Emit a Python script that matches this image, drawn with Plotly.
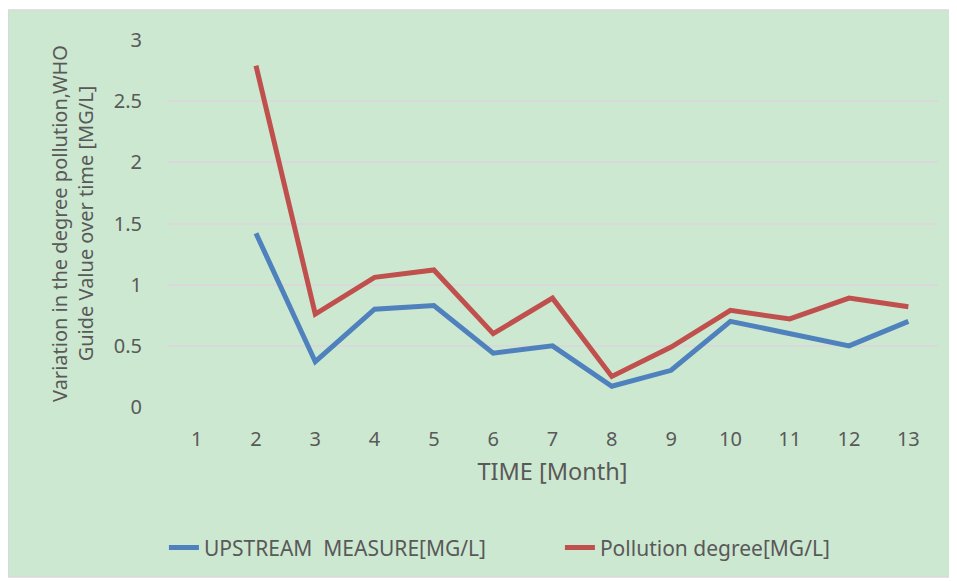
import plotly.graph_objects as go

months = [1, 2, 3, 4, 5, 6, 7, 8, 9, 10, 11, 12, 13]
upstream = [None, 1.42, 0.37, 0.80, 0.83, 0.44, 0.50, 0.17, 0.30, 0.70, 0.60, 0.50, 0.70]
pollution = [None, 2.79, 0.76, 1.06, 1.12, 0.60, 0.89, 0.25, 0.49, 0.79, 0.72, 0.89, 0.82]
y_ticks = [0, 0.5, 1, 1.5, 2, 2.5, 3]
y_tick_text = ["0", "0.5", "1", "1.5", "2", "2.5", "3"]

FONT = "Noto Sans"
TXT = "#595959"

fig = go.Figure()
fig.add_trace(go.Scatter(x=months, y=upstream, mode="lines", name="UPSTREAM\u00a0\u00a0MEASURE[MG/L]",
                         line=dict(color="#4F81BD", width=5)))
fig.add_trace(go.Scatter(x=months, y=pollution, mode="lines", name="Pollution degree[MG/L]",
                         line=dict(color="#C0504D", width=5)))

fig.update_layout(
    width=949, height=573,
    margin=dict(l=159, r=19, t=32, b=174),
    paper_bgcolor="white",
    plot_bgcolor="rgba(0,0,0,0)",
    font=dict(family=FONT, color=TXT, size=16),
    showlegend=True,
    legend=dict(orientation="h", x=-0.004, xanchor="left", y=-0.384, yanchor="middle",
                font=dict(size=21, color=TXT), bgcolor="rgba(0,0,0,0)",
                entrywidth=351, entrywidthmode="pixels"),
    xaxis=dict(range=[0.5, 13.5], tickvals=months, ticktext=[str(m) for m in months],
               showgrid=False, zeroline=False, showline=False, ticks="",
               ticklabelstandoff=18,
               tickfont=dict(size=20, color=TXT),
               title=dict(text="TIME [Month]", font=dict(size=23.5, color=TXT), standoff=12)),
    yaxis=dict(range=[0, 3], tickvals=y_ticks, ticktext=y_tick_text,
               showgrid=True, gridcolor="#D9D9D9", gridwidth=2, zeroline=False, showline=False,
               ticks="", ticklabelstandoff=24,
               tickfont=dict(size=20, color=TXT),
               title=dict(text="Variation in the degree pollution,WHO<br>Guide Value over time [MG/L]",
                          font=dict(size=20, color=TXT), standoff=14)),
    shapes=[dict(type="rect", xref="paper", yref="paper",
                 x0=-0.206, x1=1.022, y0=-0.463, y1=1.082,
                 fillcolor="#CDE8D1", line=dict(color="#D9D9D9", width=1.5), layer="below")],
)

fig.write_html("out.html")
